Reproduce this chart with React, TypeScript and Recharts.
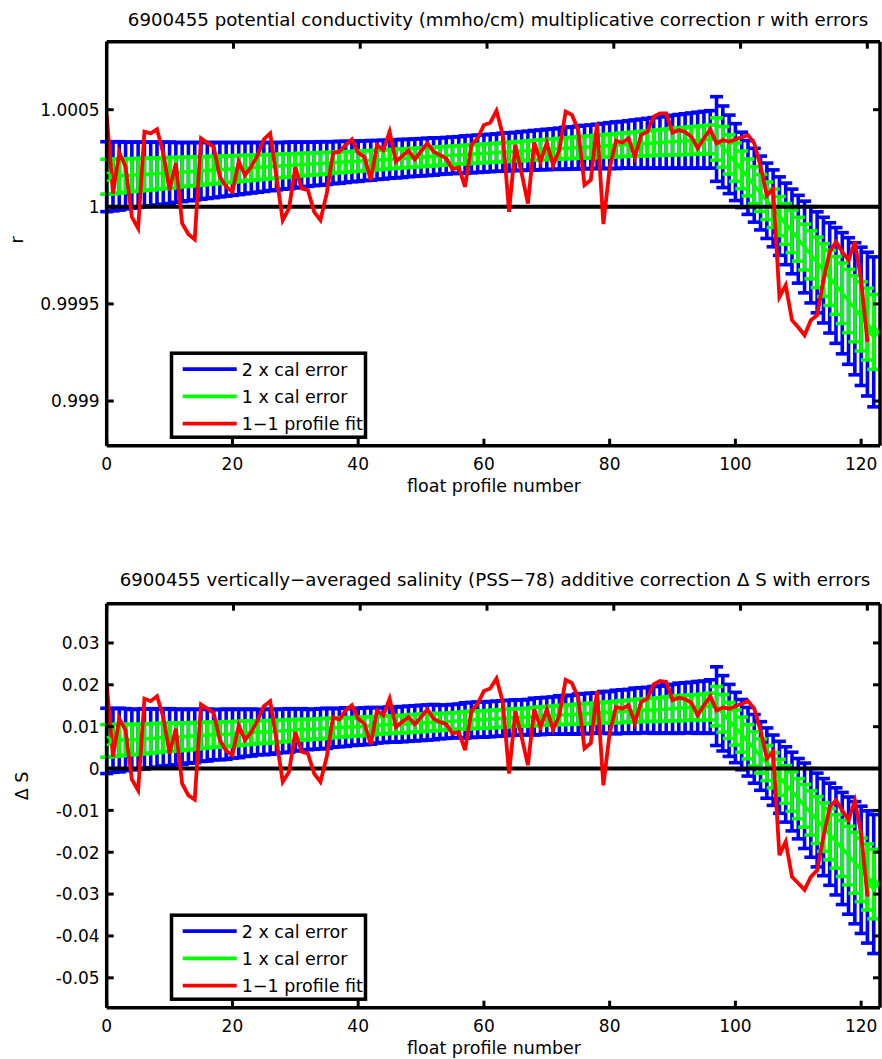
import React from "react";
import { ComposedChart, Line, ErrorBar, XAxis, YAxis, ReferenceLine } from "recharts";

// float profile numbers
const profiles = Array.from({ length: 123 }, (_, i) => i);
const X_TICKS = [0, 20, 40, 60, 80, 100, 120];

// --- top panel: conductivity multiplicative correction r (values in 1e-5 of r - 1)
const rFit = [
  15.5, 15.7, 15.9, 16.1, 16.3, 16.5, 16.7, 16.9, 17.1, 17.3,
  17.5, 17.7, 17.9, 18.1, 18.3, 18.5, 18.7, 18.9, 19.1, 19.3,
  19.5, 19.7, 19.9, 20.1, 20.3, 20.5, 20.7, 20.9, 21.1, 21.3,
  21.5, 21.7, 21.9, 22.1, 22.3, 22.5, 22.7, 22.9, 23.1, 23.3,
  23.5, 23.7, 23.9, 24.1, 24.3, 24.5, 24.7, 24.9, 25.1, 25.3,
  25.5, 25.7, 25.9, 26.1, 26.3, 26.5, 26.7, 26.9, 27.1, 27.3,
  27.5, 27.7, 27.9, 28.1, 28.3, 28.5, 28.7, 28.9, 29.1, 29.3,
  29.5, 29.7, 29.9, 30.1, 30.3, 30.5, 30.7, 30.9, 31.1, 31.3,
  31.5, 31.7, 31.9, 32.1, 32.3, 32.5, 32.7, 32.9, 33.1, 33.3,
  33.5, 33.7, 33.9, 34.1, 34.3, 34.5, 34.7, 34.9, 30.9, 27.0,
  23.0, 19.0, 15.1, 11.1, 7.1, 3.1, -0.8, -4.8, -8.8, -12.7,
  -16.7, -20.7, -24.7, -28.6, -32.6, -36.6, -40.5, -44.5, -48.5, -52.5,
  -56.4, -60.4, -64.4,
];
const rCalErr = [
  9.0, 8.9, 8.8, 8.6, 8.5, 8.4, 8.3, 8.2, 8.1, 8.0,
  7.9, 7.7, 7.6, 7.5, 7.4, 7.3, 7.2, 7.1, 7.0, 6.9,
  6.8, 6.7, 6.6, 6.5, 6.4, 6.3, 6.2, 6.1, 6.0, 6.0,
  5.9, 5.8, 5.7, 5.6, 5.6, 5.5, 5.4, 5.4, 5.3, 5.2,
  5.2, 5.1, 5.1, 5.0, 5.0, 4.9, 4.9, 4.9, 4.8, 4.8,
  4.8, 4.8, 4.8, 4.7, 4.7, 4.7, 4.7, 4.8, 4.8, 4.8,
  4.8, 4.8, 4.8, 4.9, 4.9, 4.9, 5.0, 5.0, 5.1, 5.1,
  5.2, 5.2, 5.3, 5.4, 5.4, 5.5, 5.6, 5.6, 5.7, 5.8,
  5.9, 6.0, 6.0, 6.1, 6.2, 6.3, 6.4, 6.5, 6.6, 6.7,
  6.8, 6.9, 7.0, 7.1, 7.2, 7.3, 7.4, 10.9, 10.5, 10.1,
  9.9, 9.7, 9.5, 9.5, 9.5, 9.7, 9.9, 10.1, 10.5, 10.9,
  11.3, 11.8, 12.4, 13.0, 13.6, 14.2, 14.9, 15.6, 16.3, 17.0,
  17.8, 18.5, 19.3,
];
const rProfileFit = [
  47.3, 6.9, 27.8, 20.6, -5.2, -11.1, 38.7, 37.8, 39.9, 27.5,
  8.6, 22.4, -8.6, -14.1, -16.8, 35.3, 33.0, 30.9, 15.5, 10.3,
  7.7, 23.2, 16.3, 20.6, 26.6, 34.7, 37.8, 15.5, -6.9, -0.8,
  20.3, 9.5, 8.6, -2.6, -6.9, 6.9, 27.8, 28.4, 31.8, 34.7,
  27.8, 25.5, 13.8, 31.8, 29.2, 38.7, 23.2, 26.1, 28.9, 24.4,
  28.6, 32.7, 28.4, 26.6, 24.9, 19.3, 20.3, 10.3, 31.8, 35.3,
  42.1, 43.3, 49.5, 37.0, -2.6, 31.8, 17.2, 1.7, 33.0, 23.2,
  33.0, 21.5, 29.2, 49.0, 47.3, 39.5, 11.2, 13.8, 43.0, -8.9,
  19.8, 34.0, 33.0, 35.3, 25.5, 37.0, 38.7, 46.4, 48.1, 48.1,
  38.1, 39.5, 38.5, 36.1, 30.1, 35.3, 39.9, 32.7, 34.4, 33.5,
  34.7, 35.8, 37.0, 32.7, 21.0, 5.8, 9.2, -46.4, -40.4, -58.4,
  -62.0, -66.1, -58.4, -55.8, -37.8, -23.2, -18.0, -23.2, -27.5, -18.0,
  -37.8, -69.6,
];

// --- bottom panel: salinity additive correction (values in 1e-3 PSS-78)
const sFit = [
  6.6, 6.7, 6.8, 6.9, 6.9, 7.0, 7.1, 7.2, 7.3, 7.4,
  7.5, 7.5, 7.6, 7.7, 7.8, 7.9, 8.0, 8.1, 8.1, 8.2,
  8.3, 8.4, 8.5, 8.6, 8.7, 8.7, 8.8, 8.9, 9.0, 9.1,
  9.2, 9.3, 9.3, 9.4, 9.5, 9.6, 9.7, 9.8, 9.9, 9.9,
  10.0, 10.1, 10.2, 10.3, 10.4, 10.5, 10.5, 10.6, 10.7, 10.8,
  10.9, 11.0, 11.1, 11.1, 11.2, 11.3, 11.4, 11.5, 11.6, 11.7,
  11.7, 11.8, 11.9, 12.0, 12.1, 12.2, 12.2, 12.3, 12.4, 12.5,
  12.6, 12.7, 12.8, 12.8, 12.9, 13.0, 13.1, 13.2, 13.3, 13.4,
  13.4, 13.5, 13.6, 13.7, 13.8, 13.9, 14.0, 14.0, 14.1, 14.2,
  14.3, 14.4, 14.5, 14.6, 14.6, 14.7, 14.8, 14.9, 13.2, 11.5,
  9.8, 8.1, 6.4, 4.7, 3.0, 1.3, -0.4, -2.1, -3.8, -5.5,
  -7.2, -8.9, -10.6, -12.3, -14.0, -15.7, -17.4, -19.1, -20.8, -22.5,
  -24.2, -25.9, -27.6,
];
const sCalErr = [
  3.9, 3.8, 3.8, 3.7, 3.6, 3.6, 3.6, 3.5, 3.5, 3.4,
  3.4, 3.3, 3.3, 3.2, 3.2, 3.1, 3.1, 3.0, 3.0, 3.0,
  2.9, 2.9, 2.8, 2.8, 2.7, 2.7, 2.7, 2.6, 2.6, 2.6,
  2.5, 2.5, 2.4, 2.4, 2.4, 2.4, 2.3, 2.3, 2.3, 2.2,
  2.2, 2.2, 2.2, 2.1, 2.1, 2.1, 2.1, 2.1, 2.1, 2.1,
  2.1, 2.1, 2.1, 2.0, 2.0, 2.0, 2.0, 2.1, 2.1, 2.1,
  2.1, 2.1, 2.1, 2.1, 2.1, 2.1, 2.1, 2.1, 2.2, 2.2,
  2.2, 2.2, 2.3, 2.3, 2.3, 2.4, 2.4, 2.4, 2.4, 2.5,
  2.5, 2.6, 2.6, 2.6, 2.7, 2.7, 2.7, 2.8, 2.8, 2.9,
  2.9, 3.0, 3.0, 3.0, 3.1, 3.1, 3.2, 4.7, 4.5, 4.3,
  4.2, 4.2, 4.1, 4.1, 4.1, 4.2, 4.2, 4.3, 4.5, 4.7,
  4.8, 5.1, 5.3, 5.6, 5.8, 6.1, 6.4, 6.7, 7.0, 7.3,
  7.6, 7.9, 8.3,
];
const sProfileFit = [
  20.3, 2.8, 11.9, 9.1, -2.6, -5.2, 16.7, 16.1, 17.3, 12.3,
  3.6, 9.5, -3.6, -6.4, -7.4, 15.3, 14.3, 13.3, 6.8, 4.2,
  3.2, 10.3, 6.8, 8.7, 11.5, 14.9, 16.1, 6.8, -3.2, -0.8,
  8.7, 4.0, 3.6, -1.2, -3.2, 2.8, 12.2, 11.7, 13.9, 15.1,
  11.9, 10.7, 5.8, 13.9, 12.7, 16.7, 9.9, 11.1, 12.3, 10.6,
  12.3, 14.1, 11.9, 11.1, 10.6, 8.4, 8.7, 4.4, 13.7, 15.5,
  18.5, 19.1, 21.5, 15.9, -1.2, 13.7, 7.5, 0.8, 14.1, 9.9,
  14.1, 9.3, 12.7, 21.2, 20.4, 16.9, 4.8, 6.1, 18.5, -4.0,
  8.4, 14.7, 14.3, 15.1, 10.9, 15.9, 16.7, 20.1, 20.9, 20.7,
  16.3, 16.9, 16.6, 15.7, 12.7, 15.1, 17.3, 13.9, 14.6, 14.3,
  14.9, 15.5, 16.1, 14.3, 9.1, 2.4, 4.0, -20.7, -17.5, -25.9,
  -27.4, -29.0, -25.9, -24.3, -16.3, -9.2, -7.6, -10.0, -12.3, -7.7,
  -15.5, -30.6,
];

const R_TICKS = [0.999, 0.9995, 1, 1.0005];
const S_TICKS = [-0.05, -0.04, -0.03, -0.02, -0.01, 0, 0.01, 0.02, 0.03];

const BLUE = "#0000ff";
const GREEN = "#00ff00";
const RED = "#ff0000";
const FONT = "DejaVu Sans";

const legendItems = [
  { label: "2 x cal error", color: BLUE },
  { label: "1 x cal error", color: GREEN },
  { label: "1\u22121 profile fit", color: RED },
];

function buildRows(fit: number[], calErr: number[], profileFit: number[], base: number, scale: number) {
  return profiles.map((p, i) => ({
    p,
    fit: base + fit[i] * scale,
    err2: 2 * calErr[i] * scale, // "2 x cal error"
    err1: calErr[i] * scale,
    red: profileFit[i] === undefined ? null : base + profileFit[i] * scale,
  }));
}

const rRows = buildRows(rFit, rCalErr, rProfileFit, 1, 1e-5);
const sRows = buildRows(sFit, sCalErr, sProfileFit, 0, 1e-3);

// MATLAB style ticks: pointing inwards, labels outside
// eslint-disable-next-line @typescript-eslint/no-explicit-any
const LeftTick = ({ x, y, payload }: any) => (
  <g>
    <line x1={x} x2={x + 7} y1={y} y2={y} stroke="#000" strokeWidth={3} />
    <text x={x - 7} y={y + 6.3} textAnchor="end" fontFamily={FONT} fontSize={17} fill="#000">
      {String(payload.value)}
    </text>
  </g>
);
// eslint-disable-next-line @typescript-eslint/no-explicit-any
const BottomTick = ({ x, y, payload }: any) => (
  <g>
    <line x1={x} x2={x} y1={y} y2={y - 7} stroke="#000" strokeWidth={3} />
    <text x={x} y={y + 24.5} textAnchor="middle" fontFamily={FONT} fontSize={17} fill="#000">
      {String(payload.value)}
    </text>
  </g>
);
// eslint-disable-next-line @typescript-eslint/no-explicit-any
const TopTick = ({ x, y }: any) => <line x1={x} x2={x} y1={y} y2={y + 7} stroke="#000" strokeWidth={3} />;
// eslint-disable-next-line @typescript-eslint/no-explicit-any
const RightTick = ({ x, y }: any) => <line x1={x} x2={x - 7} y1={y} y2={y} stroke="#000" strokeWidth={3} />;

// hollow circle only on the first and last point of the fit
// eslint-disable-next-line @typescript-eslint/no-explicit-any
const EndMarker = (props: any) => {
  const { cx, cy, index } = props;
  if (index !== 0 && index !== profiles.length - 1) return <g key={`d-${index}`} />;
  return <circle key={`d-${index}`} cx={cx} cy={cy} r={4} fill="none" stroke={GREEN} strokeWidth={2.5} />;
};

interface PanelProps {
  // eslint-disable-next-line @typescript-eslint/no-explicit-any
  rows: any[];
  yDomain: [number, number];
  yTicks: number[];
  baseline: number;
}

function CorrectionPanel({ rows, yDomain, yTicks, baseline }: PanelProps) {
  const axisLine = { stroke: "#000", strokeWidth: 3.5 };
  return (
    <ComposedChart width={882} height={520} data={rows} margin={{ top: 40.7, right: 0, bottom: 0, left: 0 }}>
      <XAxis
        dataKey="p"
        type="number"
        domain={[0, 123]}
        ticks={X_TICKS}
        interval={0}
        allowDataOverflow
        height={74.3}
        tickSize={0}
        tickMargin={0}
        tickLine={false}
        axisLine={axisLine}
        tick={<BottomTick />}
      />
      <XAxis
        xAxisId="top"
        orientation="top"
        type="number"
        domain={[0, 123]}
        ticks={X_TICKS}
        interval={0}
        allowDataOverflow
        height={1}
        tickSize={0}
        tickMargin={0}
        tickLine={false}
        axisLine={axisLine}
        tick={<TopTick />}
      />
      <YAxis
        type="number"
        domain={yDomain}
        ticks={yTicks}
        interval={0}
        allowDataOverflow
        width={106.7}
        tickSize={0}
        tickMargin={0}
        tickLine={false}
        axisLine={axisLine}
        tick={<LeftTick />}
      />
      <YAxis
        yAxisId="right"
        orientation="right"
        type="number"
        domain={yDomain}
        ticks={yTicks}
        interval={0}
        allowDataOverflow
        width={2}
        tickSize={0}
        tickMargin={0}
        tickLine={false}
        axisLine={axisLine}
        tick={<RightTick />}
      />
      <Line dataKey="fit" stroke="none" dot={false} isAnimationActive={false}>
        <ErrorBar dataKey="err2" width={6.5} stroke={BLUE} strokeWidth={3.6} isAnimationActive={false} />
      </Line>
      <Line dataKey="fit" stroke={GREEN} strokeWidth={3.5} dot={EndMarker} isAnimationActive={false}>
        <ErrorBar dataKey="err1" width={6.5} stroke={GREEN} strokeWidth={3.6} isAnimationActive={false} />
      </Line>
      <ReferenceLine y={baseline} stroke="#000" strokeWidth={4} />
      <Line dataKey="red" stroke={RED} strokeWidth={3.8} dot={false} isAnimationActive={false} />
    </ComposedChart>
  );
}

function LegendBox({ top }: { top: number }) {
  return (
    <g>
      <rect x={171.5} y={top + 1.5} width={194} height={84} fill="#fff" stroke="#000" strokeWidth={3.5} />
      {legendItems.map((item, i) => {
        const cy = top + 17.5 + i * 27.2;
        return (
          <g key={item.label}>
            <line x1={182.7} x2={236.7} y1={cy} y2={cy} stroke={item.color} strokeWidth={3.8} />
            <text x={241.7} y={cy + 6.5} fontFamily={FONT} fontSize={17.5} fill="#000">
              {item.label}
            </text>
          </g>
        );
      })}
    </g>
  );
}

export default function App() {
  const textProps = { fontFamily: FONT, fill: "#000", textAnchor: "middle" as const };
  return (
    <div style={{ position: "absolute", left: 0, top: 0, width: 882, height: 1059, background: "#fff", overflow: "hidden" }}>
      <div style={{ position: "absolute", left: 0, top: 0 }}>
        <CorrectionPanel rows={rRows} yDomain={[0.99877, 1.00085]} yTicks={R_TICKS} baseline={1} />
      </div>
      <div style={{ position: "absolute", left: 0, top: 562 }}>
        <CorrectionPanel rows={sRows} yDomain={[-0.05714, 0.03938]} yTicks={S_TICKS} baseline={0} />
      </div>
      <svg width={882} height={1059} style={{ position: "absolute", left: 0, top: 0, pointerEvents: "none" }}>
        <text x={498} y={26} fontSize={18.2} {...textProps}>
          6900455 potential conductivity (mmho/cm) multiplicative correction r with errors
        </text>
        <text x={494} y={492} fontSize={17.5} {...textProps}>float profile number</text>
        <text x={23} y={240} fontSize={17.5} transform="rotate(-90 23 240)" {...textProps}>r</text>
        <LegendBox top={351.7} />

        <text x={495} y={586} fontSize={18.2} {...textProps}>
          6900455 vertically{"\u2212"}averaged salinity (PSS{"\u2212"}78) additive correction {"\u0394"} S with errors
        </text>
        <text x={494} y={1054} fontSize={17.5} {...textProps}>float profile number</text>
        <text x={28} y={786} fontSize={17.5} transform="rotate(-90 28 786)" {...textProps}>{"\u0394"} S</text>
        <LegendBox top={913.7} />
      </svg>
    </div>
  );
}
